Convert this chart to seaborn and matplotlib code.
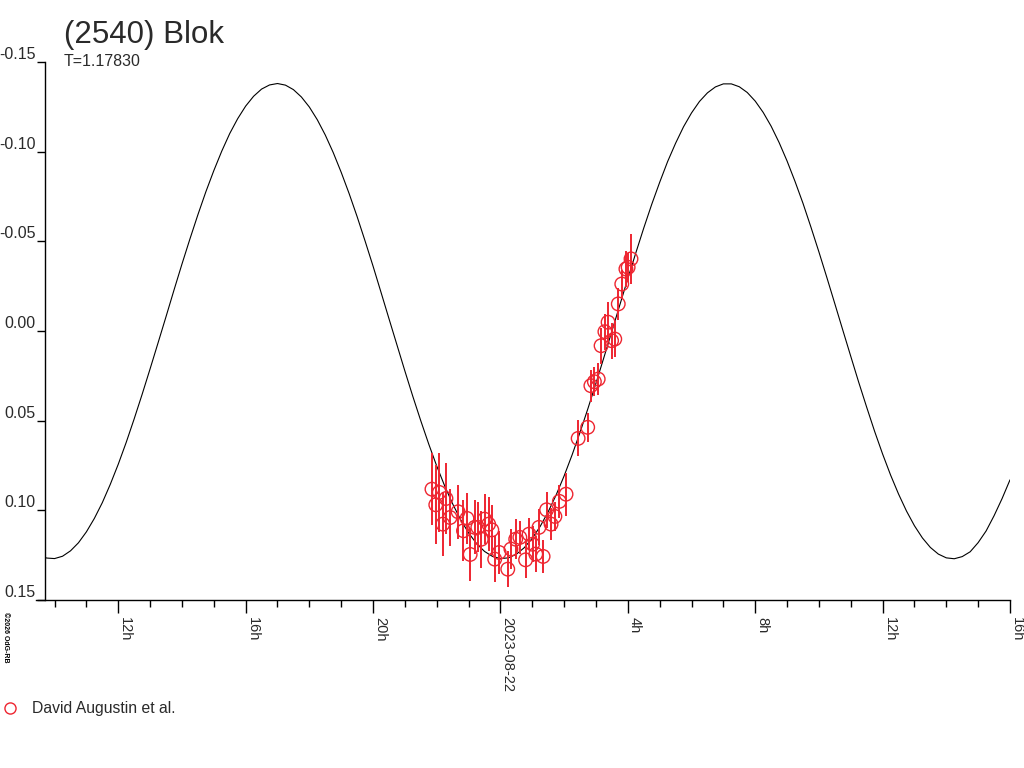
import numpy as np
import pandas as pd
import matplotlib
matplotlib.use("Agg")
import matplotlib.pyplot as plt
import seaborn as sns

# 光变曲线模型 (小时, 相对 2023-08-22 00:00)
curve_hours = [-14.5, -14.25, -14.0, -13.75, -13.5, -13.25, -13.0, -12.75,
               -12.5, -12.25, -12.0, -11.75, -11.5, -11.25, -11.0, -10.75,
               -10.5, -10.25, -10.0, -9.75, -9.5, -9.25, -9.0, -8.75,
               -8.5, -8.25, -8.0, -7.75, -7.5, -7.25, -7.0, -6.75,
               -6.5, -6.25, -6.0, -5.75, -5.5, -5.25, -5.0, -4.75,
               -4.5, -4.25, -4.0, -3.75, -3.5, -3.25, -3.0, -2.75,
               -2.5, -2.25, -2.0, -1.75, -1.5, -1.25, -1.0, -0.75,
               -0.5, -0.25, 0.0, 0.25, 0.5, 0.75, 1.0, 1.25,
               1.5, 1.75, 2.0, 2.25, 2.5, 2.75, 3.0, 3.25,
               3.5, 3.75, 4.0, 4.25, 4.5, 4.75, 5.0, 5.25,
               5.5, 5.75, 6.0, 6.25, 6.5, 6.75, 7.0, 7.25,
               7.5, 7.75, 8.0, 8.25, 8.5, 8.75, 9.0, 9.25,
               9.5, 9.75, 10.0, 10.25, 10.5, 10.75, 11.0, 11.25,
               11.5, 11.75, 12.0, 12.25, 12.5, 12.75, 13.0, 13.25,
               13.5, 13.75, 14.0, 14.25, 14.5, 14.75, 15.0, 15.25,
               15.5, 15.75, 16.0]
curve_mag = [0.1247, 0.1266, 0.1269, 0.1256, 0.1226, 0.1181, 0.1120, 0.1045,
             0.0957, 0.0855, 0.0743, 0.0621, 0.0490, 0.0353, 0.0211, 0.0066,
             -0.0080, -0.0228, -0.0373, -0.0513, -0.0648, -0.0776, -0.0894, -0.1003,
             -0.1101, -0.1184, -0.1254, -0.1309, -0.1349, -0.1372, -0.1380, -0.1371,
             -0.1346, -0.1305, -0.1249, -0.1178, -0.1093, -0.0995, -0.0885, -0.0766,
             -0.0638, -0.0502, -0.0362, -0.0216, -0.0069, 0.0077, 0.0223, 0.0365,
             0.0501, 0.0631, 0.0753, 0.0864, 0.0964, 0.1052, 0.1126, 0.1185,
             0.1229, 0.1257, 0.1269, 0.1265, 0.1245, 0.1208, 0.1156, 0.1089,
             0.1008, 0.0914, 0.0808, 0.0691, 0.0565, 0.0431, 0.0291, 0.0147,
             0.0001, -0.0146, -0.0292, -0.0435, -0.0574, -0.0706, -0.0829, -0.0945,
             -0.1047, -0.1139, -0.1216, -0.1280, -0.1328, -0.1361, -0.1378, -0.1378,
             -0.1362, -0.1330, -0.1282, -0.1219, -0.1142, -0.1051, -0.0948, -0.0834,
             -0.0712, -0.0579, -0.0441, -0.0298, -0.0152, -0.0005, 0.0141, 0.0286,
             0.0425, 0.0560, 0.0686, 0.0803, 0.0909, 0.1004, 0.1086, 0.1154,
             0.1207, 0.1244, 0.1265, 0.1270, 0.1258, 0.1231, 0.1180, 0.1115,
             0.1030, 0.0935, 0.0830]

# 观测数据
obs_hours = [-2.15, -1.92, -2.03, -1.71, -1.81, -1.58, -1.33, -1.05, -1.16, -0.81,
             -0.95, -0.71, -0.50, -0.60, -0.37, -0.27, -0.18, -0.04, 0.23, 0.33,
             0.48, 0.61, 0.79, 0.90, 1.01, 1.11, 1.34, 1.21, 1.45, 1.59,
             1.71, 1.85, 2.06, 2.44, 2.74, 2.84, 2.95, 3.07, 3.16, 3.28,
             3.38, 3.49, 3.59, 3.70, 3.81, 3.94, 4.01, 4.10]
obs_mag = [0.0882, 0.0900, 0.0969, 0.0934, 0.1077, 0.1040, 0.1008, 0.1045, 0.1114, 0.1095,
           0.1246, 0.1095, 0.1049, 0.1161, 0.1077, 0.1109, 0.1272, 0.1235, 0.1328, 0.1216,
           0.1161, 0.1151, 0.1276, 0.1133, 0.1189, 0.1244, 0.1257, 0.1095, 0.0997, 0.1077,
           0.1034, 0.0950, 0.0910, 0.0599, 0.0537, 0.0305, 0.0283, 0.0268, 0.0082, 0.0004,
           -0.0049, 0.0054, 0.0045, -0.0151, -0.0262, -0.0346, -0.0355, -0.0402]
obs_err = [0.020, 0.022, 0.022, 0.020, 0.018, 0.016, 0.015, 0.014, 0.017, 0.015,
           0.015, 0.014, 0.014, 0.016, 0.015, 0.014, 0.013, 0.012, 0.010, 0.011,
           0.011, 0.009, 0.010, 0.009, 0.010, 0.010, 0.009, 0.010, 0.010, 0.009,
           0.008, 0.009, 0.012, 0.010, 0.008, 0.009, 0.008, 0.009, 0.010, 0.010,
           0.011, 0.010, 0.010, 0.009, 0.008, 0.010, 0.008, 0.014]

tick_hours = [-12, -8, -4, 0, 4, 8, 12, 16]
tick_labels = ['12h', '16h', '20h', '2023-08-22', '4h', '8h', '12h', '16h']
y_ticks = [-0.15, -0.10, -0.05, 0.00, 0.05, 0.10, 0.15]
y_labels = ['-0.15', '-0.10', '-0.05', '0.00', '0.05', '0.10', '0.15']

title = '(2540) Blok'
period_text = 'T=1.17830'
observer = 'David Augustin et al.'

red = '#ee2530'
text_color = '#2a2a2a'

sns.set_style('ticks')
plt.rcParams['font.family'] = ['Liberation Sans', 'DejaVu Sans']

curve = pd.DataFrame({'hour': curve_hours, 'mag': curve_mag})
obs = pd.DataFrame({'hour': obs_hours, 'mag': obs_mag, 'err': obs_err})

fig = plt.figure(figsize=(10.24, 7.68), dpi=100)
ax = fig.add_axes([45 / 1024, 1 - 600 / 768, 965 / 1024, 538 / 768])

# 模型曲线 + 观测点
sns.lineplot(data=curve, x='hour', y='mag', color='black', linewidth=0.8, ax=ax)
ax.errorbar(obs['hour'], obs['mag'], yerr=obs['err'], fmt='none',
            ecolor=red, elinewidth=1.4, capsize=0, zorder=3)
sns.scatterplot(data=obs, x='hour', y='mag', marker='o', s=95,
                facecolor='none', edgecolor=red, linewidth=1.0,
                ax=ax, zorder=4, legend=False)

ax.set_xlim(-14.30, 16.0)
ax.set_ylim(0.15, -0.15)

ax.set_xticks(tick_hours)
ax.set_xticklabels(tick_labels, rotation=-90, ha='left', va='top',
                   fontsize=10.5, color=text_color)
ax.set_xticks(range(-14, 17), minor=True)
ax.tick_params(axis='x', which='major', direction='out', length=9, width=1,
               pad=3, color='black', bottom=True)
ax.tick_params(axis='x', which='minor', direction='out', length=5, width=1,
               color='black', bottom=True)

ax.set_yticks(y_ticks)
ax.set_yticklabels(y_labels, va='bottom', fontsize=11.5, color=text_color)
ax.tick_params(axis='y', which='major', direction='out', length=6, width=1,
               pad=1, color='black', left=True)

for side in ['top', 'right']:
    ax.spines[side].set_visible(False)
for side in ['left', 'bottom']:
    ax.spines[side].set_color('black')
    ax.spines[side].set_linewidth(1.0)
ax.spines['bottom'].set_bounds(-14.30 - 9 / 31.85, 16.0)

ax.set_xlabel('')
ax.set_ylabel('')

# 标题和说明
fig.text(64 / 1024, 1 - 43 / 768, title, fontsize=22.5, color=text_color,
         ha='left', va='baseline')
fig.text(64 / 1024, 1 - 66 / 768, period_text, fontsize=11.5, color=text_color,
         ha='left', va='baseline')
fig.text(2 / 1024, 1 - 612 / 768, '©2026 OdG-RB', fontsize=5, rotation=-90,
         ha='left', va='top', color='black', fontweight='bold')

handle = plt.Line2D([], [], marker='o', linestyle='none', markersize=8,
                    markerfacecolor='none', markeredgecolor=red, markeredgewidth=1.0)
fig.legend([handle], [observer], loc='center left',
           bbox_to_anchor=(2 / 1024, 1 - 709 / 768), frameon=False,
           fontsize=11.3, handlelength=1.0, handletextpad=0.9,
           borderaxespad=0.0, borderpad=0.0, labelcolor=text_color)

fig.savefig('out.png', dpi=100)
